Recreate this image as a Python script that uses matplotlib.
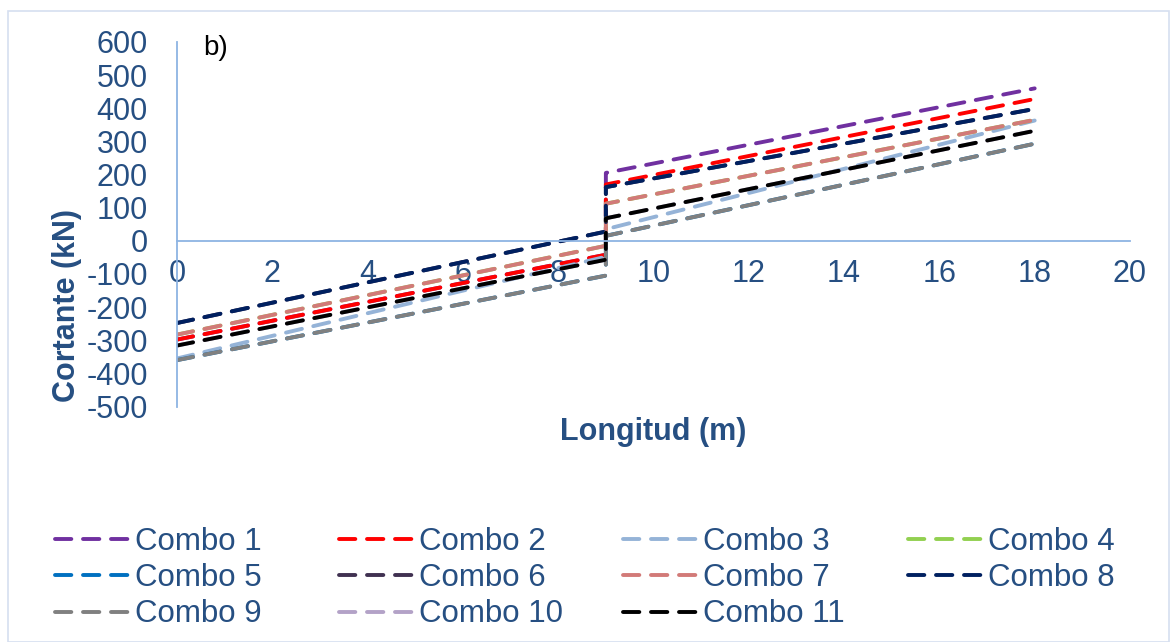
import matplotlib.pyplot as plt
from matplotlib.patches import Rectangle

plt.rcParams['font.family'] = ['Liberation Sans', 'DejaVu Sans']
plt.rcParams['axes.unicode_minus'] = False

# Longitud (m): tramo izquierdo y derecho, salto en el apoyo central
x_left = [0, 9]
x_right = [9, 18]

names = ['Combo %d' % i for i in range(1, 12)]

# cortante (kN) en x_left y x_right, por combinacion
left_vals = [
    [-298, -42],   # Combo 1
    [-298, -42],   # Combo 2
    [-355, -48],   # Combo 3
    [-283, -15],   # Combo 4
    [-360, -105],  # Combo 5
    [-248, 28],    # Combo 6
    [-283, -15],   # Combo 7
    [-248, 28],    # Combo 8
    [-360, -105],  # Combo 9
    [-316, -57],   # Combo 10
    [-316, -57],   # Combo 11
]
right_vals = [
    [205, 460],
    [170, 428],
    [35, 363],
    [112, 365],
    [15, 293],
    [162, 398],
    [112, 365],
    [162, 398],
    [15, 293],
    [68, 332],
    [68, 332],
]

colors = ['#7030a0', '#ff0000', '#95b3d7', '#92d050', '#0070c0', '#403151',
          '#d27a78', '#002060', '#808080', '#b3a2c7', '#000000']

text_col = '#264f82'
axis_col = '#8eb4e3'

fig = plt.figure(figsize=(11.74, 6.42), dpi=100)
fig.patches.append(Rectangle((0.007, 0.0), 0.989, 0.983, transform=fig.transFigure,
                             fill=False, edgecolor='#d6dff0', linewidth=1.2))
ax = fig.add_axes([0.1508, 0.3668, 0.8117, 0.5678])

lines = []
for i in range(11):
    xs = x_left + x_right
    ys = left_vals[i] + right_vals[i]
    ln, = ax.plot(xs, ys, color=colors[i], lw=2.8, linestyle=(0, (4.2, 3.0)),
                  solid_capstyle='round', dash_capstyle='round', label=names[i])
    lines.append(ln)

ax.set_xlim(0, 20)
ax.set_ylim(-500, 600)
ax.set_xticks(range(0, 21, 2))
ax.set_yticks(range(-500, 601, 100))
ax.spines['left'].set_position(('data', 0))
ax.spines['bottom'].set_position(('data', 0))
ax.spines['top'].set_visible(False)
ax.spines['right'].set_visible(False)
for s in ['left', 'bottom']:
    ax.spines[s].set_color(axis_col)
    ax.spines[s].set_linewidth(1.3)
ax.tick_params(axis='both', length=0, labelsize=22, labelcolor=text_col)
ax.tick_params(axis='y', pad=21)
ax.tick_params(axis='x', pad=13)

fig.text(67 / 1174, 1 - 305 / 642, 'Cortante (kN)', rotation=90, ha='center', va='center',
         fontsize=22, fontweight='bold', color=text_col)
fig.text(653 / 1174, 1 - 432 / 642, 'Longitud (m)', ha='center', va='center',
         fontsize=22, fontweight='bold', color=text_col)
fig.text(203 / 1174, 1 - 48 / 642, 'b)', ha='left', va='center', fontsize=20, color='black')

# leyenda estilo Excel: 4 columnas de ancho fijo, orden por filas
col_x = [55, 339, 623, 908]
for c in range(4):
    idx = [k for k in (c, c + 4, c + 8) if k < 11]
    leg = fig.legend([lines[k] for k in idx], [names[k] for k in idx],
                     loc='upper left', bbox_to_anchor=(col_x[c] / 1174, 1 - 527 / 642),
                     frameon=False, fontsize=22.5, handlelength=2.45,
                     handletextpad=0.12, labelspacing=0.2,
                     borderpad=0, borderaxespad=0)
    for t in leg.get_texts():
        t.set_color(text_col)

fig.savefig('out.png', dpi=100)
